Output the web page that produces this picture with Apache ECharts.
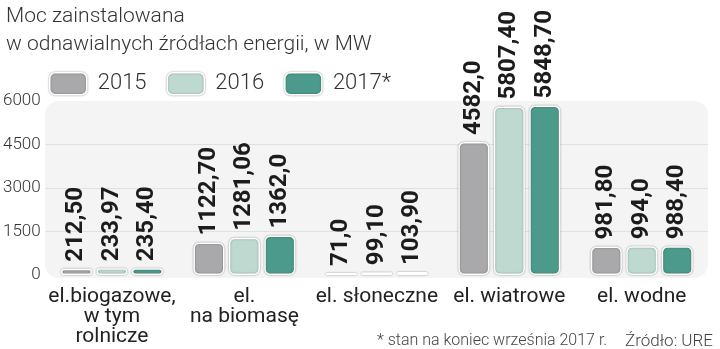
<!DOCTYPE html>
<html>
<head>
<meta charset="utf-8">
<script src="https://cdn.jsdelivr.net/npm/echarts@6/dist/echarts.min.js"></script>
<style>
html,body{margin:0;padding:0;background:#fff;}
#c{width:720px;height:349px;}
</style>
</head>
<body>
<div id="c"></div>
<script>
var categories = ['el.biogazowe,\nw tym\nrolnicze', 'el.\nna biomasę', 'el. słoneczne', 'el. wiatrowe', 'el. wodne'];
var seriesNames = ['2015', '2016', '2017*'];
var values2015 = [212.50, 1122.70, 71.0, 4582.0, 981.80];
var values2016 = [233.97, 1281.06, 99.10, 5807.40, 994.0];
var values2017 = [235.40, 1362.0, 103.90, 5848.70, 988.40];
var labels2015 = ['212,50', '1122,70', '71,0', '4582,0', '981,80'];
var labels2016 = ['233,97', '1281,06', '99,10', '5807,40', '994,0'];
var labels2017 = ['235,40', '1362,0', '103,90', '5848,70', '988,40'];
var yTicks = [0, 1500, 3000, 4500, 6000];
var gridLevels = [1500, 3000, 4500];

var colors = ['#a9a9ab', '#bedad0', '#4c9a8b'];
var chart = echarts.init(document.getElementById('c'), null, {renderer: 'canvas'});

function mkSeries(name, vals, labs, color, idx) {
  var s = {
    name: name,
    type: 'bar',
    data: vals,
    barGap: '14%',
    barCategoryGap: '23%',
    itemStyle: {
      color: color,
      borderColor: '#ffffff',
      borderWidth: 1.5,
      borderRadius: 5,
      shadowColor: 'rgba(0,0,0,0.35)',
      shadowBlur: 2
    },
    label: {
      show: true,
      position: 'top',
      rotate: 90,
      align: 'left',
      verticalAlign: 'middle',
      distance: 7,
      fontFamily: 'Roboto, sans-serif',
      fontWeight: 'bold',
      fontSize: 24,
      color: '#1c1c1c',
      formatter: function (p) { return labs[p.dataIndex]; }
    },
    z: 5
  };
  if (idx === 0) {
    s.markLine = {
      silent: true,
      symbol: ['none', 'none'],
      label: {show: false},
      lineStyle: {color: '#e0e0e0', width: 1, type: 'solid'},
      data: gridLevels.map(function (v) { return {yAxis: v}; }),
      z: 1
    };
  }
  return s;
}

var option = {
  backgroundColor: '#ffffff',
  animation: false,
  color: colors,
  title: [
    {
      text: 'Moc zainstalowana\nw odnawialnych źródłach energii, w MW',
      left: 1, top: -2,
      textStyle: {fontFamily: 'Roboto', fontWeight: 300, fontSize: 21, color: '#333', lineHeight: 28}
    },
    {
      text: '* stan na koniec września 2017 r.',
      left: 372, top: 328,
      textStyle: {fontFamily: 'Roboto', fontWeight: 300, fontSize: 16, color: '#444'}
    },
    {
      text: 'Źródło: URE',
      right: 2, top: 328,
      textStyle: {fontFamily: 'Roboto', fontWeight: 300, fontSize: 17, color: '#444'}
    }
  ],
  legend: {
    left: 44, top: 67,
    itemWidth: 37, itemHeight: 22,
    itemGap: 20,
    icon: 'roundRect',
    itemStyle: {borderColor: '#ffffff', borderWidth: 1.5, shadowColor: 'rgba(0,0,0,0.35)', shadowBlur: 2},
    textStyle: {fontFamily: 'Roboto', fontWeight: 300, fontSize: 22, color: '#333', padding: [0, 0, 0, 6]},
    data: seriesNames
  },
  graphic: [{
    type: 'rect',
    left: 45, top: 101,
    shape: {width: 663, height: 177, r: 14},
    style: {fill: '#f4f4f4'},
    z: -10,
    silent: true
  }],
  grid: {left: 45, right: 12, top: 101, bottom: 74, containLabel: false},
  xAxis: {
    type: 'category',
    data: categories,
    axisLine: {show: false},
    axisTick: {show: false},
    axisLabel: {
      margin: 12,
      fontFamily: 'Roboto', fontWeight: 400, fontSize: 21, color: '#222', lineHeight: 20,
      interval: 0
    }
  },
  yAxis: {
    type: 'value',
    min: yTicks[0], max: yTicks[yTicks.length - 1], interval: 1500,
    axisLine: {show: false},
    axisTick: {show: false},
    splitLine: {show: false},
    axisLabel: {
      margin: 5,
      fontFamily: 'Roboto', fontWeight: 300, fontSize: 17, color: '#333',
      formatter: function (v) { return String(v); }
    }
  },
  series: [
    mkSeries(seriesNames[0], values2015, labels2015, colors[0], 0),
    mkSeries(seriesNames[1], values2016, labels2016, colors[1], 1),
    mkSeries(seriesNames[2], values2017, labels2017, colors[2], 2)
  ]
};
chart.setOption(option);
</script>
</body>
</html>
